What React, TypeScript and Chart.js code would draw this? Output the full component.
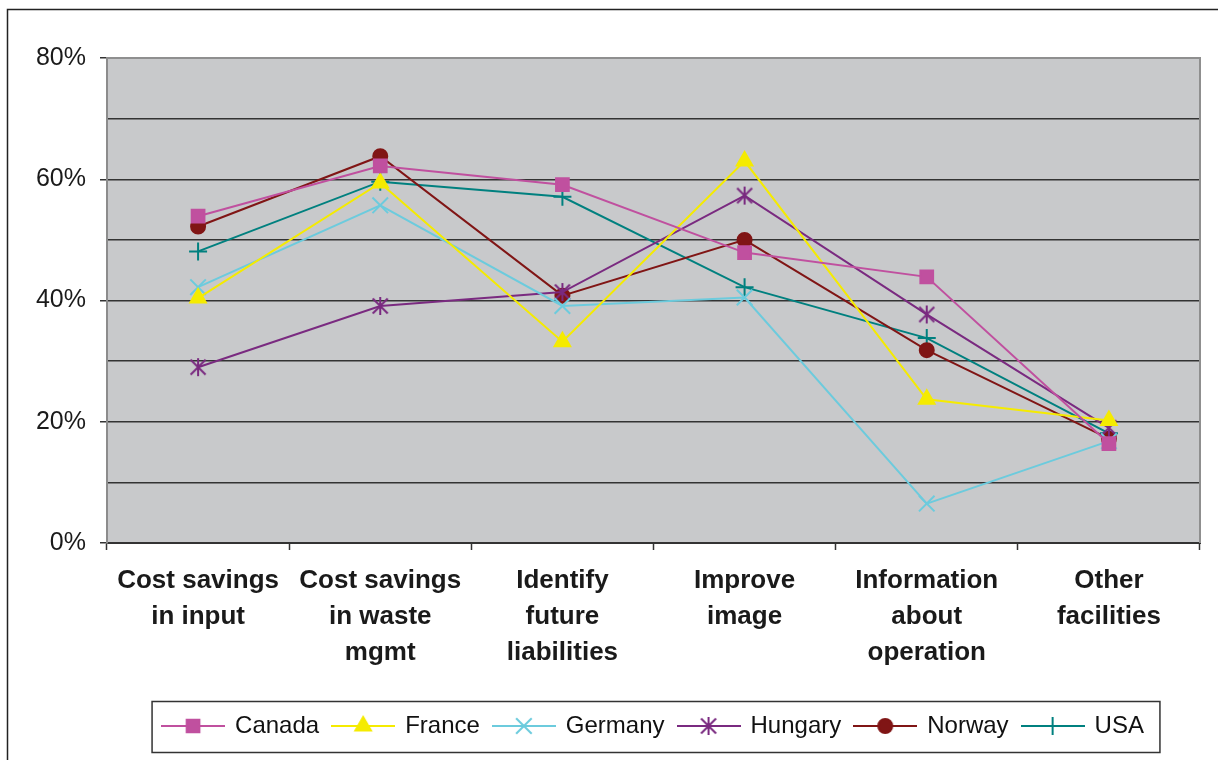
import React, { useEffect, useRef } from "react";
import { Chart, registerables } from "chart.js";
import { drawPoint } from "chart.js/helpers";

Chart.register(...registerables);

const categories: string[][] = [
  ["Cost savings", "in input"],
  ["Cost savings", "in waste", "mgmt"],
  ["Identify", "future", "liabilities"],
  ["Improve", "image"],
  ["Information", "about", "operation"],
  ["Other", "facilities"],
];

const canada = [53.9, 62.2, 59.1, 47.9, 43.9, 16.4];
const france = [40.4, 59.4, 33.2, 63.0, 23.7, 20.2];
const germany = [42.2, 55.7, 39.1, 40.5, 6.5, 16.8];
const hungary = [29.0, 39.1, 41.4, 57.3, 37.7, 19.0];
const norway = [52.2, 63.8, 40.8, 50.0, 31.8, 17.2];
const usa = [48.1, 59.6, 57.1, 42.2, 33.8, 18.1];

const seriesNames = ["Canada", "France", "Germany", "Hungary", "Norway", "USA"];
const seriesColors = ["#C0509F", "#F5EB00", "#6CCBDD", "#7A2A80", "#801515", "#00807F"];
const yTicks = [0, 20, 40, 60, 80];

const FONT = "'Liberation Sans', Arial, Helvetica, sans-serif";

function makeStar(color: string, size: number): HTMLCanvasElement {
  const c = document.createElement("canvas");
  c.width = size;
  c.height = size;
  const ctx = c.getContext("2d")!;
  const m = size / 2;
  const d = size / 2 - 2.5;
  ctx.strokeStyle = color;
  ctx.lineWidth = 2;
  ctx.beginPath();
  ctx.moveTo(m - d, m - d);
  ctx.lineTo(m + d, m + d);
  ctx.moveTo(m + d, m - d);
  ctx.lineTo(m - d, m + d);
  ctx.moveTo(m, m - d - 1.5);
  ctx.lineTo(m, m + d + 1.5);
  ctx.stroke();
  return c;
}

type MarkerDef = { style: any; radius: number };

function legendIcon(color: string, marker: MarkerDef): HTMLCanvasElement {
  const c = document.createElement("canvas");
  c.width = 64;
  c.height = 24;
  const ctx = c.getContext("2d")!;
  ctx.strokeStyle = color;
  ctx.fillStyle = color;
  ctx.lineWidth = 2;
  ctx.beginPath();
  ctx.moveTo(0, 12);
  ctx.lineTo(64, 12);
  ctx.stroke();
  if (marker.style instanceof HTMLCanvasElement) {
    const s = marker.style as HTMLCanvasElement;
    ctx.drawImage(s, 32 - s.width / 2, 12 - s.height / 2);
  } else {
    drawPoint(ctx as any, { pointStyle: marker.style, radius: marker.radius, rotation: 0, borderWidth: 2 } as any, 32, 12);
  }
  return c;
}

export default function App() {
  const ref = useRef<HTMLCanvasElement | null>(null);

  useEffect(() => {
    if (!ref.current) return;
    const values = [canada, france, germany, hungary, norway, usa];
    const markers: MarkerDef[] = [
      { style: "rect", radius: 9 },
      { style: "triangle", radius: 9 },
      { style: "crossRot", radius: 11 },
      { style: makeStar(seriesColors[3], 20), radius: 9 },
      { style: "circle", radius: 7 },
      { style: "cross", radius: 9 },
    ];
    const icons = markers.map((m, i) => legendIcon(seriesColors[i], m));

    const bgPlugin = {
      id: "bgPlugin",
      beforeDraw(chart: any) {
        const { ctx, chartArea } = chart;
        ctx.save();
        ctx.fillStyle = "#ffffff";
        ctx.fillRect(0, 0, chart.width, chart.height);
        ctx.strokeStyle = "#222";
        ctx.lineWidth = 1.5;
        ctx.beginPath();
        ctx.moveTo(7.5, chart.height + 5);
        ctx.lineTo(7.5, 9.5);
        ctx.lineTo(chart.width + 5, 9.5);
        ctx.stroke();
        ctx.fillStyle = "#C8C9CB";
        ctx.fillRect(chartArea.left, chartArea.top, chartArea.right - chartArea.left, chartArea.bottom - chartArea.top);
        ctx.restore();
      },
      afterLayout(chart: any) {
        const lg = chart.legend;
        const ca = chart.chartArea;
        if (lg && ca) {
          lg.left = ca.left;
          lg.right = ca.right;
          lg.width = ca.right - ca.left;
        }
      },
      beforeDatasetsDraw(chart: any) {
        const { ctx, chartArea } = chart;
        ctx.save();
        ctx.strokeStyle = "#8f8f8f";
        ctx.lineWidth = 2;
        ctx.beginPath();
        ctx.moveTo(chartArea.left, chartArea.top);
        ctx.lineTo(chartArea.right, chartArea.top);
        ctx.lineTo(chartArea.right, chartArea.bottom);
        ctx.stroke();
        ctx.restore();
      },
      afterDraw(chart: any) {
        const lg = chart.legend;
        if (!lg || !lg.legendHitBoxes || !lg.legendHitBoxes.length) return;
        const hb = lg.legendHitBoxes;
        const first = hb[0];
        const last = hb[hb.length - 1];
        const cy = first.top + first.height / 2;
        const x0 = first.left - 11;
        const x1 = last.left + last.width + 16;
        const ctx = chart.ctx;
        ctx.save();
        ctx.strokeStyle = "#333";
        ctx.lineWidth = 1.5;
        ctx.strokeRect(x0, cy - 24.5, x1 - x0, 51);
        ctx.restore();
      },
    };

    const chart = new Chart(ref.current, {
      type: "line",
      data: {
        labels: categories,
        datasets: seriesNames.map((name, i) => ({
          label: name,
          data: values[i],
          borderColor: seriesColors[i],
          backgroundColor: seriesColors[i],
          pointBackgroundColor: seriesColors[i],
          pointBorderColor: seriesColors[i],
          borderWidth: 2,
          pointBorderWidth: 2,
          pointStyle: markers[i].style,
          pointRadius: markers[i].radius,
          tension: 0,
          fill: false,
        })),
      },
      options: {
        responsive: false,
        animation: false,
        events: [],
        layout: { padding: { top: 58, right: 18, bottom: 12, left: 0 } },
        scales: {
          x: {
            type: "category",
            offset: true,
            afterFit(scale: any) {
              scale.height = 157;
            },
            grid: {
              offset: true,
              drawOnChartArea: false,
              drawTicks: true,
              tickLength: 7,
              tickColor: "#333",
              tickWidth: 1.5,
            },
            border: { display: true, color: "#333", width: 2 },
            ticks: {
              autoSkip: false,
              maxRotation: 0,
              minRotation: 0,
              padding: 13,
              color: "#1a1a1a",
              font: { family: FONT, size: 26, weight: "bold", lineHeight: "36px" } as any,
            },
          },
          y: {
            min: 0,
            max: 80,
            afterFit(scale: any) {
              scale.width = 107;
            },
            grid: {
              color: (ctx: any) => (ctx.tick && ctx.tick.value === 80 ? "#8f8f8f" : "#333"),
              lineWidth: 1.5,
              tickLength: 7,
              tickWidth: 1.5,
              tickColor: (ctx: any) =>
                ctx.tick && yTicks.includes(ctx.tick.value) ? "#333" : "rgba(0,0,0,0)",
            },
            border: { display: true, color: "#8c8c8c", width: 2 },
            ticks: {
              stepSize: 10,
              padding: 14,
              color: "#1a1a1a",
              font: { family: FONT, size: 25 },
              callback: (v: any) => (yTicks.includes(Number(v)) ? `${v}%` : ""),
            },
          },
        },
        plugins: {
          title: { display: false },
          tooltip: { enabled: false },
          legend: {
            display: true,
            position: "bottom",
            align: "center",
            labels: {
              usePointStyle: true,
              pointStyleWidth: 60,
              padding: 14,
              color: "#111",
              font: { family: FONT, size: 24 },
              generateLabels: (ch: any) => {
                const items = Chart.defaults.plugins.legend.labels.generateLabels(ch);
                return items.map((it: any, i: number) => ({ ...it, pointStyle: icons[i] }));
              },
            },
          },
        },
      },
      plugins: [bgPlugin],
    } as any);

    return () => {
      chart.destroy();
    };
  }, []);

  return (
    <div style={{ position: "fixed", left: 0, top: 0, width: 1218, height: 760, background: "#fff", overflow: "hidden" }}>
      <canvas ref={ref} width={1218} height={760} style={{ display: "block", width: 1218, height: 760 }} />
    </div>
  );
}
